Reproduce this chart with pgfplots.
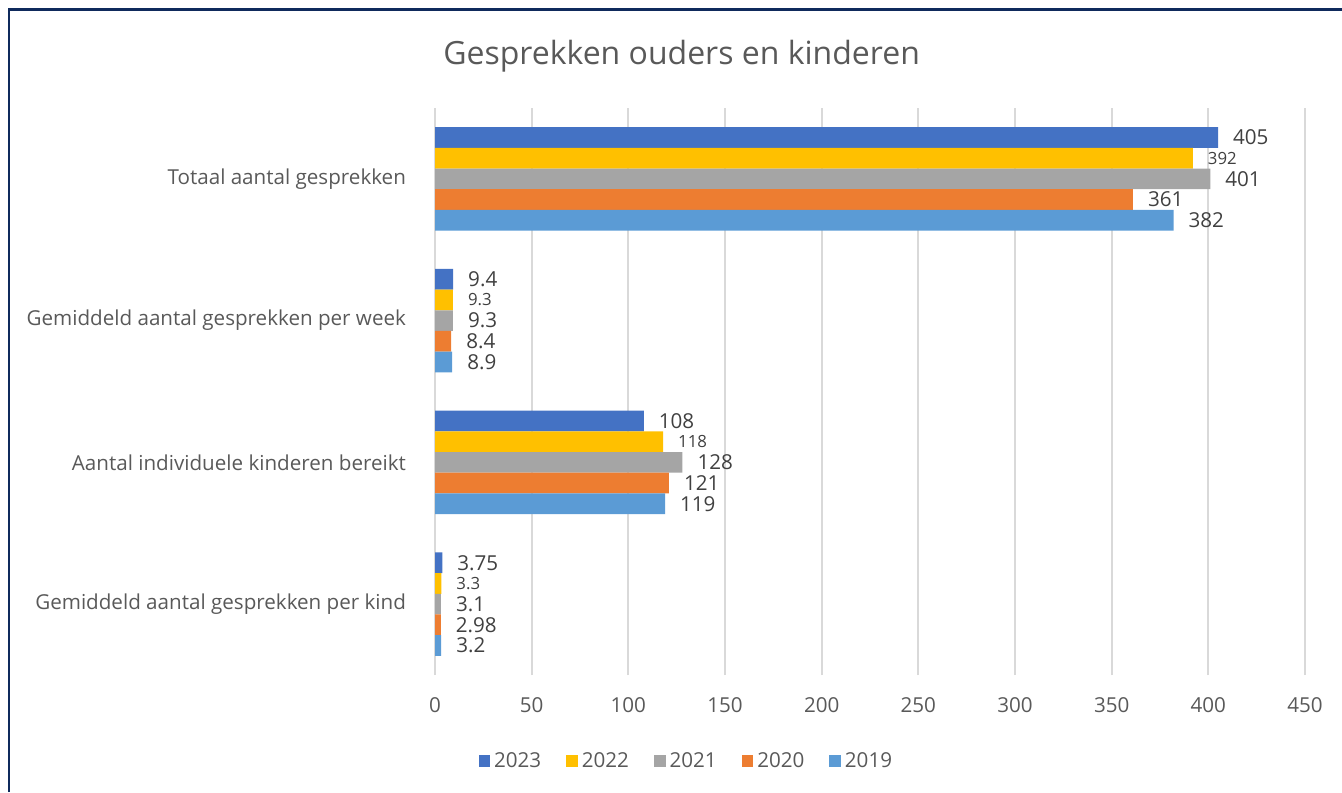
\documentclass[border=0pt]{standalone}
\usepackage{fontspec}
\setmainfont{Open Sans}
\usepackage{pgfplots}
\pgfplotsset{compat=1.18}
\definecolor{cA}{HTML}{4472C4}
\definecolor{cB}{HTML}{FFC000}
\definecolor{cC}{HTML}{A5A5A5}
\definecolor{cD}{HTML}{ED7D31}
\definecolor{cE}{HTML}{5B9BD5}
\definecolor{navy}{HTML}{0F2A5C}
\definecolor{tickgray}{HTML}{595959}
\definecolor{labgray}{HTML}{404040}
\definecolor{gridgray}{HTML}{D9D9D9}
\begin{document}
\begin{tikzpicture}
\useasboundingbox (0,0) rectangle (671pt,396pt);
\draw[navy, line width=1.1pt] (4.3pt,0pt) -- (4.3pt,391.2pt) -- (671pt,391.2pt);
\node[anchor=base, text=tickgray, font=\fontsize{16pt}{19pt}\selectfont] at (340.8pt,363.5pt) {Gesprekken ouders en kinderen};
\begin{axis}[
  at={(217.5pt,58.5pt)}, anchor=south west,
  scale only axis, width=435pt, height=283.5pt,
  xbar, bar width=10.35pt,
  xmin=0, xmax=450, ymin=-0.5, ymax=3.5,
  xtick={0,50,...,450},
  ytick={0,1,2,3},
  yticklabels={Gemiddeld aantal gesprekken per kind, Aantal individuele kinderen bereikt, Gemiddeld aantal gesprekken per week, Totaal aantal gesprekken},
  axis line style={draw=none},
  major tick length=0pt,
  xmajorgrids, grid style={gridgray, line width=0.9pt},
  /pgf/number format/assume math mode=true,
  tick label style={font=\fontsize{10.3pt}{12pt}\selectfont, text=tickgray},
  xticklabel style={yshift=-7.5pt},
  yticklabel style={xshift=-11pt},
  point meta=x,
  nodes near coords={\pgfmathprintnumber{\pgfplotspointmeta}},
  every node near coord/.append style={anchor=west, xshift=4pt, text=labgray, font=\fontsize{10.3pt}{12pt}\selectfont},
  legend columns=5,
  legend style={at={(0.29,-0.152)}, anchor=center, draw=none, fill=none,
    font=\fontsize{10.3pt}{12pt}\selectfont, text=tickgray,
    /tikz/every even column/.append style={column sep=10.5pt}},
  legend image code/.code={\fill[#1] (0pt,-2.9pt) rectangle (5.8pt,2.9pt);},
]
\addplot[fill=cA, draw=none, bar shift=20.7pt] coordinates {(405,3) (9.4,2) (108,1) (3.75,0)};
\addlegendentry{2023}
\addplot[fill=cB, draw=none, bar shift=10.35pt, every node near coord/.append style={font=\fontsize{8.4pt}{10pt}\selectfont}] coordinates {(392,3) (9.3,2) (118,1) (3.3,0)};
\addlegendentry{2022}
\addplot[fill=cC, draw=none, bar shift=0pt] coordinates {(401,3) (9.3,2) (128,1) (3.1,0)};
\addlegendentry{2021}
\addplot[fill=cD, draw=none, bar shift=-10.35pt] coordinates {(361,3) (8.4,2) (121,1) (2.98,0)};
\addlegendentry{2020}
\addplot[fill=cE, draw=none, bar shift=-20.7pt] coordinates {(382,3) (8.9,2) (119,1) (3.2,0)};
\addlegendentry{2019}
\end{axis}
\end{tikzpicture}
\end{document}
